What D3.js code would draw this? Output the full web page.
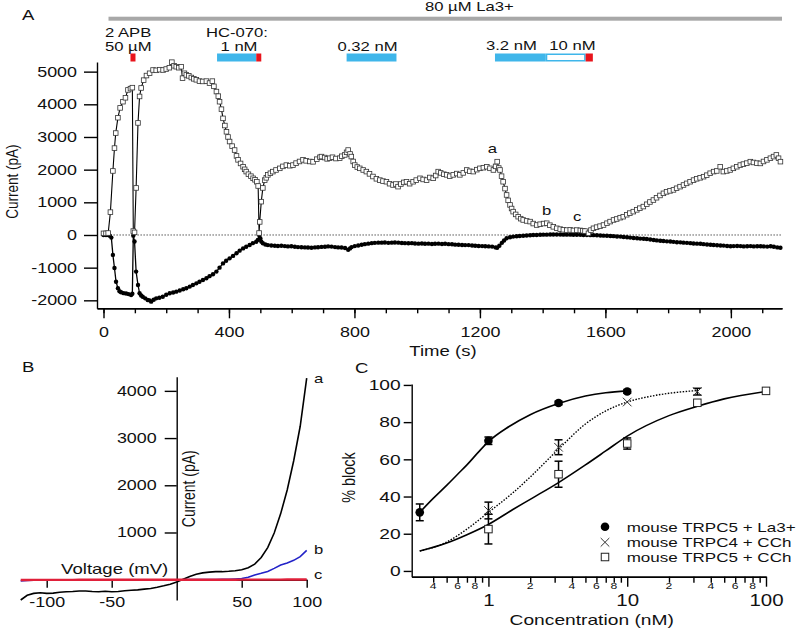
<!DOCTYPE html>
<html><head><meta charset="utf-8">
<script src="https://cdn.jsdelivr.net/npm/d3@7"></script>
<style>
body{margin:0;background:#fff}
svg{display:block}
text{font-family:"Liberation Sans",Arial,sans-serif;fill:#111}
</style>
</head><body>
<svg id="fig" width="800" height="631"></svg>
<script>
// ---------------- DATA ----------------
// Panel A: time course (s, pA)
const outwardPoints = [[0,50],[8,50],[15,60],[22,700],[30,1960],[35,2660],[39,3120],[46,3590],[53,3890],[62,4080],[70,4200],[78,4440],[86,4480],[92,4510],[95,120],[99,80],[104,1440],[110,3430],[115,4240],[120,4500],[128,4740],[137,4880],[147,4950],[158,5050],[168,5040],[179,5060],[190,5050],[200,5080],[210,5120],[218,5290],[225,5180],[232,5150],[240,5120],[248,5150],[252,4800],[258,4950],[264,4900],[272,4870],[280,4820],[288,4780],[296,4750],[306,4710],[316,4700],[328,4710],[338,4650],[347,4710],[352,4550],[360,4390],[366,4250],[370,4080],[376,3850],[381,3570],[387,3350],[392,3160],[397,3000],[402,2860],[410,2720],[418,2600],[424,2420],[429,2300],[437,2190],[445,2090],[450,2010],[455,1940],[462,1860],[470,1800],[477,1735],[483,1690],[489,1630],[493,1500],[496,60],[498,400],[503,1020],[508,1440],[514,1680],[519,1750],[524,1840],[532,1890],[540,1940],[550,1990],[562,2040],[572,2100],[583,2140],[594,2120],[604,2140],[614,2200],[625,2250],[636,2300],[646,2270],[658,2250],[668,2240],[680,2320],[690,2380],[695,2400],[705,2370],[713,2330],[721,2350],[730,2380],[741,2340],[753,2350],[760,2410],[769,2450],[775,2530],[780,2600],[786,2480],[790,2400],[796,2250],[801,2140],[809,2080],[817,2040],[828,1990],[838,1940],[848,1870],[859,1790],[870,1720],[881,1680],[891,1650],[902,1630],[912,1570],[923,1530],[932,1560],[939,1480],[948,1560],[957,1610],[966,1630],[976,1570],[987,1630],[997,1680],[1009,1735],[1019,1700],[1030,1680],[1040,1760],[1051,1735],[1059,1820],[1067,1940],[1075,1900],[1085,1860],[1094,1840],[1104,1800],[1115,1840],[1126,1880],[1136,1840],[1147,1900],[1158,1990],[1168,1950],[1179,1940],[1190,2000],[1200,2040],[1211,2060],[1222,2090],[1232,2040],[1243,1990],[1250,2100],[1255,2245],[1260,2050],[1264,1990],[1269,1800],[1274,1630],[1280,1420],[1285,1225],[1290,1060],[1296,920],[1301,810],[1306,715],[1314,630],[1322,560],[1330,500],[1338,460],[1349,430],[1360,410],[1370,350],[1381,305],[1392,330],[1403,350],[1413,360],[1423,300],[1434,250],[1445,205],[1456,180],[1466,160],[1477,150],[1488,155],[1498,140],[1509,150],[1520,140],[1528,130],[1535,120],[1546,50],[1554,150],[1562,205],[1572,240],[1583,270],[1594,305],[1605,360],[1615,410],[1626,460],[1636,490],[1647,530],[1657,560],[1668,620],[1678,670],[1689,715],[1700,770],[1710,820],[1721,870],[1732,940],[1742,1010],[1753,1070],[1763,1140],[1774,1210],[1785,1275],[1795,1320],[1806,1350],[1817,1380],[1827,1430],[1838,1480],[1849,1530],[1859,1580],[1870,1630],[1881,1680],[1891,1720],[1902,1750],[1913,1785],[1923,1830],[1934,1890],[1945,1940],[1955,1960],[1966,2090],[1976,1940],[1987,1960],[1998,1990],[2008,2040],[2019,2090],[2030,2140],[2040,2170],[2051,2200],[2062,2245],[2072,2220],[2083,2200],[2094,2190],[2104,2250],[2115,2300],[2126,2350],[2136,2400],[2145,2450],[2152,2350],[2158,2245]];

const inwardPoints = [[0,0],[8,0],[15,0],[20,-20],[25,-80],[30,-610],[35,-1010],[40,-1430],[46,-1630],[51,-1720],[56,-1755],[64,-1780],[72,-1790],[80,-1810],[88,-1840],[92,-1800],[95,-20],[99,-200],[104,-1120],[110,-1530],[115,-1785],[120,-1850],[125,-1890],[133,-1940],[141,-1990],[147,-2000],[152,-2040],[160,-1980],[168,-1940],[178,-1920],[189,-1890],[200,-1830],[211,-1785],[222,-1760],[232,-1735],[243,-1700],[254,-1660],[264,-1630],[275,-1580],[285,-1530],[296,-1480],[306,-1430],[317,-1380],[328,-1325],[338,-1260],[349,-1200],[360,-1120],[370,-1000],[381,-870],[391,-790],[402,-715],[413,-640],[424,-560],[434,-480],[445,-410],[455,-360],[466,-305],[476,-250],[487,-205],[492,-150],[496,0],[500,-100],[503,-200],[508,-255],[516,-290],[524,-310],[535,-320],[546,-330],[556,-335],[567,-330],[578,-340],[588,-350],[599,-345],[610,-360],[620,-370],[631,-375],[642,-380],[652,-385],[663,-390],[674,-380],[684,-375],[695,-365],[706,-360],[716,-350],[727,-355],[738,-370],[748,-380],[759,-385],[770,-400],[780,-450],[786,-410],[791,-370],[801,-340],[812,-320],[823,-300],[833,-280],[844,-265],[855,-250],[865,-240],[876,-235],[887,-235],[897,-230],[908,-240],[919,-235],[929,-230],[940,-235],[951,-245],[961,-250],[972,-255],[983,-250],[993,-260],[1004,-265],[1015,-260],[1025,-270],[1036,-265],[1047,-275],[1057,-270],[1068,-265],[1079,-275],[1089,-270],[1100,-280],[1111,-285],[1121,-295],[1132,-300],[1143,-305],[1153,-310],[1164,-310],[1175,-320],[1185,-330],[1196,-335],[1207,-340],[1217,-345],[1228,-350],[1239,-355],[1250,-380],[1255,-390],[1262,-330],[1270,-240],[1277,-170],[1285,-100],[1296,-70],[1306,-50],[1317,-40],[1327,-30],[1338,-25],[1349,-15],[1360,-10],[1370,0],[1381,0],[1392,5],[1402,10],[1413,10],[1424,15],[1434,15],[1445,15],[1456,15],[1466,10],[1477,10],[1488,10],[1498,5],[1509,5],[1520,5],[1530,0],[1541,0],[1552,-5],[1562,-5],[1573,-10],[1584,-15],[1594,-20],[1605,-25],[1616,-30],[1626,-35],[1637,-45],[1648,-50],[1658,-60],[1669,-70],[1679,-80],[1690,-90],[1701,-100],[1711,-110],[1722,-115],[1732,-125],[1743,-140],[1754,-155],[1764,-165],[1775,-175],[1785,-185],[1796,-195],[1807,-200],[1817,-210],[1828,-220],[1839,-225],[1849,-235],[1860,-240],[1871,-250],[1881,-260],[1892,-265],[1903,-270],[1913,-280],[1924,-290],[1935,-300],[1945,-305],[1956,-315],[1967,-320],[1977,-325],[1988,-335],[1999,-345],[2009,-340],[2020,-335],[2031,-340],[2041,-350],[2052,-345],[2063,-340],[2073,-350],[2084,-345],[2095,-345],[2105,-350],[2116,-355],[2127,-345],[2137,-360],[2148,-380],[2158,-390]];

const timeMajorTicks = [0,400,800,1200,1600,2000];
const timeMinorTicks = [0,100,200,300,400,500,600,700,800,900,1000,1100,1200,1300,1400,1500,1600,1700,1800,1900,2000,2100];
const currentTicksA = [-2000,-1000,0,1000,2000,3000,4000,5000];

// application windows (s)
const la3Window = [16, 2163];
const blueWindows = [[362,487],[775,934],[1248,1410]];
const whiteWindow = [1410,1537];
const redWindows = [[86,102],[487,503],[1537,1560]];
const traceMarks = [["a",1240,2500],["b",1413,600],["c",1510,420]];

// Panel B: I-V (mV, pA)
const voltage = [-120,-115,-110,-105,-100,-95,-90,-85,-80,-75,-70,-65,-60,-55,-50,-45,-40,-35,-30,-25,-20,-15,-10,-5,0,5,10,15,20,25,30,35,40,45,50,55,60,65,70,75,80,85,90,95,100];
const ivA = [-430,-330,-290,-275,-290,-285,-265,-255,-250,-240,-240,-250,-255,-245,-255,-250,-235,-225,-215,-200,-185,-160,-130,-95,-50,10,70,115,145,160,170,170,178,190,210,255,330,470,680,990,1400,1900,2520,3250,4270];
const ivB = [-25,-15,-12,-10,-10,-8,-8,-6,-6,-5,-5,-5,-4,-4,-3,-3,-2,-2,-2,-1,0,0,0,0,0,0,1,2,3,4,5,6,8,15,25,50,100,135,175,240,310,355,410,490,620];
const ivC = [-5,-5,-4,-4,-4,-3,-3,-3,-3,-2,-2,-2,-2,-2,-2,-1,-1,-1,-1,-1,0,0,0,0,0,0,0,0,0,0,0,0,0,0,1,1,1,1,2,2,2,3,3,4,5];
const voltageTicks = [-100,-50,50,100];
const currentTicksB = [1000,2000,3000,4000];

// Panel C: concentration-response (nM, % block)
const la3Conc = [0.32, 1, 3.2, 10];
const la3Block = [31.5, 70, 90.3, 96.5];
const la3Err = [4.5, 2, 1, 1];
const c4Conc = [1, 3.2, 10, 32];
const c4Block = [32.5, 66.5, 90.8, 96.4];
const c4Err = [4.5, 4, 0, 1.8];
const c5Conc = [1, 3.2, 10, 32, 100];
const c5Block = [22.5, 52, 68.5, 90.4, 96.8];
const c5Err = [8, 7, 3, 0, 0];
const la3FitConc = [0.32,0.4,0.5,0.6,0.7,0.85,1,1.4,2,3.2,5,7,10];
const la3FitBlock = [31.5,39,46,52,57,64,69.5,77.5,84,90,94,95.8,96.8];
const c4FitConc = [0.32,0.5,0.7,1,1.5,2,3.2,5,7,10,15,20,32];
const c4FitBlock = [10.7,15.5,22.5,31.5,42,50.5,65.5,79,86,90.8,94,95.5,97];
const c5FitConc = [0.32,0.5,0.7,1,1.5,2,3.2,5,7,10,20,32,50,100];
const c5FitBlock = [10.7,15,19.5,25,33,38.5,47.5,57,64.5,72.5,83.5,88.5,92.5,96.5];
const blockTicks = [0,20,40,60,80,100];
const concMajorTicks = [1,10,100];
const concMinorTicks = [0.4,0.5,0.6,0.7,0.8,0.9,2,3,4,5,6,7,8,9,20,30,40,50,60,70,80,90];
const concMinorLabels = [0.4,0.6,0.8,2,4,6,8,20,40,60,80];
const legendLabels = ["mouse TRPC5 + La3+","mouse TRPC4 + CCh","mouse TRPC5 + CCh"];

// ---------------- DRAW ----------------
const SX = 1.28;
const svg = d3.select("#fig");
const BLUE = "#3fb6ea", RED = "#e8141c";
const plain = d => String(d);

function label(g, x, y, s, size, anchor, rot) {
  return g.append("text")
    .attr("transform", `translate(${x},${y}) scale(${SX},1)` + (rot ? ` rotate(${rot})` : ""))
    .attr("font-size", size).attr("text-anchor", anchor || "start").text(s);
}
function styleAxis(g, size, orient) {
  g.attr("font-family", null).attr("font-size", null);
  g.selectAll(".domain").attr("stroke", "#000").attr("stroke-width", 1.4);
  g.selectAll(".tick line").attr("stroke", "#000").attr("stroke-width", 1.4);
  g.selectAll(".tick text").attr("font-size", size).attr("fill", "#111")
    .each(function () { const t = d3.select(this); if (orient === "left") t.attr("x", +t.attr("x") / SX); })
    .attr("transform", `scale(${SX},1)`);
}

// ===== Panel A =====
const xA = d3.scaleLinear().domain([-20.7, 2163]).range([97, 782]);
const yA = d3.scaleLinear().domain([-2244, 5295]).range([308.3, 62]);
const gA = svg.append("g");

label(gA, 22, 20, "A", 14.5);
gA.append("rect").attr("x", xA(la3Window[0])).attr("y", 16.7)
  .attr("width", xA(la3Window[1]) - xA(la3Window[0])).attr("height", 4).attr("fill", "#a8a8a8");
label(gA, 425, 11, "80 µM La3+", 13);
label(gA, 105, 37.3, "2 APB", 13);
label(gA, 105, 50.7, "50 µM", 13);
label(gA, 206, 37.3, "HC-070:", 13);
label(gA, 239, 50.7, "1 nM", 13, "middle");
label(gA, 367.5, 50.7, "0.32 nM", 13, "middle");
label(gA, 486, 50.3, "3.2 nM", 13);
label(gA, 549.3, 50.3, "10 nM", 13);
gA.selectAll(".blue").data(blueWindows).join("rect")
  .attr("x", d => xA(d[0])).attr("y", 53.5).attr("width", d => xA(d[1]) - xA(d[0])).attr("height", 8).attr("fill", BLUE);
gA.append("rect").attr("x", xA(whiteWindow[0]) + 0.75).attr("y", 54.25)
  .attr("width", xA(whiteWindow[1]) - xA(whiteWindow[0]) - 1.5).attr("height", 6.5)
  .attr("fill", "#fff").attr("stroke", BLUE).attr("stroke-width", 1.5);
gA.selectAll(".red").data(redWindows).join("rect")
  .attr("x", d => xA(d[0])).attr("y", 53.5).attr("width", d => xA(d[1]) - xA(d[0])).attr("height", 8).attr("fill", RED);

const axAy = gA.append("g").attr("transform", "translate(97,0)")
  .call(d3.axisLeft(yA).tickValues(currentTicksA).tickFormat(plain).tickSize(13).tickPadding(7).tickSizeOuter(0));
styleAxis(axAy, 14, "left");
const axAxMinor = gA.append("g").attr("transform", "translate(0,308.3)")
  .call(d3.axisBottom(xA).tickValues(timeMinorTicks).tickSize(5).tickFormat("").tickSizeOuter(0));
styleAxis(axAxMinor, 14, "bottom");
const axAx = gA.append("g").attr("transform", "translate(0,308.3)")
  .call(d3.axisBottom(xA).tickValues(timeMajorTicks).tickFormat(plain).tickSize(10).tickPadding(8.5).tickSizeOuter(0));
styleAxis(axAx, 14, "bottom");
label(gA, 443, 356, "Time (s)", 14.5, "middle");
label(gA, 17.5, 181.7, "Current (pA)", 13.5, "middle", -90);

gA.append("line").attr("x1", xA(-6)).attr("x2", 782).attr("y1", yA(0)).attr("y2", yA(0))
  .attr("stroke", "#000").attr("stroke-width", 1).attr("stroke-dasharray", "1,2");

gA.append("path").datum(inwardPoints)
  .attr("d", d3.line().x(d => xA(d[0])).y(d => yA(d[1])))
  .attr("fill", "none").attr("stroke", "#000").attr("stroke-width", 1.3);
gA.selectAll(".inw").data(inwardPoints).join("circle")
  .attr("cx", d => xA(d[0])).attr("cy", d => yA(d[1])).attr("r", 2.2).attr("fill", "#000");
gA.append("path").datum(outwardPoints)
  .attr("d", d3.line().x(d => xA(d[0])).y(d => yA(d[1])))
  .attr("fill", "none").attr("stroke", "#000").attr("stroke-width", 1.1);
gA.selectAll(".outw").data(outwardPoints).join("rect")
  .attr("x", d => xA(d[0]) - 2.3).attr("y", d => yA(d[1]) - 2.3).attr("width", 4.6).attr("height", 4.6)
  .attr("fill", "#fff").attr("stroke", "#333").attr("stroke-width", 0.8);
traceMarks.forEach(m => label(gA, xA(m[1]), yA(m[2]), m[0], 13, "middle"));

// ===== Panel B =====
const xB = d3.scaleLinear().domain([-120, 100]).range([20.7, 306.7]);
const yB = d3.scaleLinear().domain([-430, 4300]).range([600, 376.7]);
const gB = svg.append("g");
label(gB, 22, 371.7, "B", 14.5);
const axBx = gB.append("g").attr("transform", `translate(0,${yB(0)})`)
  .call(d3.axisBottom(xB).tickValues(voltageTicks).tickFormat(plain).tickSize(8).tickPadding(9).tickSizeOuter(0));
styleAxis(axBx, 14, "bottom");
const axBy = gB.append("g").attr("transform", `translate(${xB(0)},0)`)
  .call(d3.axisLeft(yB).tickValues(currentTicksB).tickFormat(plain).tickSize(12).tickPadding(8).tickSizeOuter(0));
styleAxis(axBy, 14, "left");
label(gB, 168.3, 573.5, "Voltage (mV)", 14.5, "end");
label(gB, 194.5, 488.7, "Current (pA)", 14, "middle", -90);

const lineB = arr => d3.line().x((d, i) => xB(voltage[i])).y(d => yB(d))(arr);
gB.append("path").attr("d", lineB(ivA)).attr("fill", "none").attr("stroke", "#000").attr("stroke-width", 1.6);
gB.append("path").attr("d", lineB(ivB)).attr("fill", "none").attr("stroke", "#2323c8").attr("stroke-width", 1.6);
gB.append("path").attr("d", lineB(ivC)).attr("fill", "none").attr("stroke", "#e0203a").attr("stroke-width", 2.4);
label(gB, 314, 383, "a", 13);
label(gB, 314, 554, "b", 13);
label(gB, 314, 579, "c", 13);

// ===== Panel C =====
const xC = d3.scaleLog().domain([0.28, 100]).range([411.7, 766]);
const yC = d3.scaleLinear().domain([-3.1, 100.5]).range([576.7, 384]);
const gC = svg.append("g");
label(gC, 355, 373, "C", 14.5);
const axCy = gC.append("g").attr("transform", "translate(411.7,0)")
  .call(d3.axisLeft(yC).tickValues(blockTicks).tickFormat(plain).tickSize(8).tickPadding(3).tickSizeOuter(0));
styleAxis(axCy, 15, "left");
const axCxMinor = gC.append("g").attr("transform", "translate(0,576.7)")
  .call(d3.axisBottom(xC).tickValues(concMinorTicks).tickSize(6).tickFormat("").tickSizeOuter(0));
styleAxis(axCxMinor, 10, "bottom");
const axCx = gC.append("g").attr("transform", "translate(0,576.7)")
  .call(d3.axisBottom(xC).tickValues(concMajorTicks).tickSize(10).tickPadding(8).tickFormat(plain).tickSizeOuter(0));
styleAxis(axCx, 16, "bottom");
concMinorLabels.forEach(v => label(gC, xC(v), 589, String(v).replace("0.", "").charAt(0), 9.5, "middle"));
label(gC, 591.7, 624.5, "Concentration (nM)", 15, "middle");
label(gC, 355, 477.5, "% block", 14.5, "middle", -90);

const fitLine = d3.line().x(d => xC(d[0])).y(d => yC(d[1])).curve(d3.curveMonotoneX);
const zip = (a, b) => a.map((v, i) => [v, b[i]]);
gC.append("path").attr("d", fitLine(zip(c5FitConc, c5FitBlock))).attr("fill", "none").attr("stroke", "#000").attr("stroke-width", 1.6);
gC.append("path").attr("d", fitLine(zip(c4FitConc, c4FitBlock))).attr("fill", "none").attr("stroke", "#000").attr("stroke-width", 1.4).attr("stroke-dasharray", "1.5,1.5");
gC.append("path").attr("d", fitLine(zip(la3FitConc, la3FitBlock))).attr("fill", "none").attr("stroke", "#000").attr("stroke-width", 1.6);

function errBars(conc, val, err) {
  conc.forEach((c, i) => {
    if (!err[i]) return;
    const x = xC(c), y1 = yC(val[i] - err[i]), y2 = yC(val[i] + err[i]);
    gC.append("line").attr("x1", x).attr("x2", x).attr("y1", y1).attr("y2", y2).attr("stroke", "#000").attr("stroke-width", 1.5);
    [y1, y2].forEach(y => gC.append("line").attr("x1", x - 4).attr("x2", x + 4).attr("y1", y).attr("y2", y).attr("stroke", "#000").attr("stroke-width", 1.5));
  });
}
errBars(c5Conc, c5Block, c5Err);
errBars(c4Conc, c4Block, c4Err);
errBars(la3Conc, la3Block, la3Err);

function square(g, x, y, s) {
  g.append("rect").attr("x", x - s / 2).attr("y", y - s / 2).attr("width", s).attr("height", s)
    .attr("fill", "#fff").attr("stroke", "#222").attr("stroke-width", 1);
}
function cross(g, x, y, h) {
  g.append("path").attr("d", `M${x - h},${y - h}L${x + h},${y + h}M${x - h},${y + h}L${x + h},${y - h}`)
    .attr("stroke", "#333").attr("stroke-width", 1).attr("fill", "none");
}
c5Conc.forEach((c, i) => square(gC, xC(c), yC(c5Block[i]), 7.5));
c4Conc.forEach((c, i) => cross(gC, xC(c), yC(c4Block[i]), 4.3));
la3Conc.forEach((c, i) => gC.append("circle").attr("cx", xC(c)).attr("cy", yC(la3Block[i])).attr("r", 4.3).attr("fill", "#000"));

const lg = gC.append("g");
lg.append("circle").attr("cx", 605).attr("cy", 526.7).attr("r", 4.3).attr("fill", "#000");
cross(lg, 605, 542.3, 4.3);
square(lg, 605, 557, 7.5);
legendLabels.forEach((s, i) => label(lg, 626.7, 531.7 + i * 15.3, s, 13.3));
</script>
</body></html>
